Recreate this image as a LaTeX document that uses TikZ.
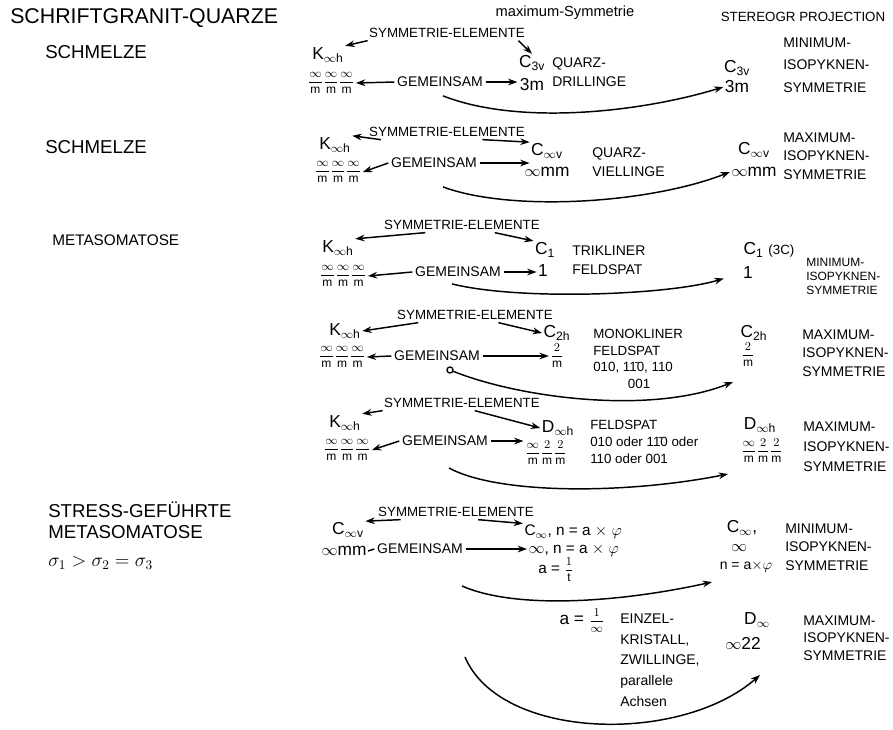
\documentclass[tikz,border=0pt]{standalone}
\usepackage{fontspec}
\setmainfont{Liberation Sans}
\usepackage{amsmath}
\usetikzlibrary{calc}
\usetikzlibrary{positioning}
\usetikzlibrary{arrows.meta}
\tikzstyle{rowlabel} = [font=\fontsize{14}{16}\selectfont, anchor=west, inner sep=0]
\tikzstyle{symlabel} = [font=\fontsize{10}{12}\selectfont, inner sep=1pt]
\tikzstyle{gemlabel} = [font=\fontsize{10.5}{12}\selectfont, inner sep=2pt]
\tikzstyle{grpnode} = [font=\fontsize{13}{15}\selectfont, inner sep=1pt]
\tikzstyle{desc} = [font=\fontsize{10.5}{14}\selectfont, anchor=west, align=left, inner sep=0]
\tikzstyle{flow} = [-{Stealth[length=7pt, width=5pt]}, line width=1.1pt]
\tikzstyle{tailmark} = [draw, circle, inner sep=1.6pt, line width=1pt]
\newcommand{\symfrac}[2]{{\fontsize{9}{10}\selectfont$\dfrac{#1}{\text{#2}}$}}
\newcommand{\infsub}[1]{\textsubscript{$\infty$#1}}

\begin{document}
\begin{tikzpicture}[x=0.75pt, y=-0.75pt]
\useasboundingbox (0,0) rectangle (893,729);
% header
\node[rowlabel, font=\fontsize{16}{18}\selectfont] (title) at (10,18) {SCHRIFTGRANIT-QUARZE};
\node[font=\fontsize{11}{13}\selectfont] (max_head) at (565,13) {maximum-Symmetrie};
\node[font=\fontsize{10}{12}\selectfont] (proj_head) at (803,17) {STEREOGR PROJECTION};

% row a: Schmelze -> Quarz-Drillinge
\node[rowlabel] (melt_a) at (45,52) {SCHMELZE};
\node[symlabel] (sym_a) at (447,33) {SYMMETRIE-ELEMENTE};
\node[grpnode] (k_a) at (328,55) {K\infsub{h}};
\node[grpnode] (kf_a) at ($(k_a)+(3,28)$) {\symfrac{\infty}{m}\symfrac{\infty}{m}\symfrac{\infty}{m}};
\node[gemlabel] (gem_a) at (440,82) {GEMEINSAM};
\node[grpnode] (c_a) at (532,63) {C\textsubscript{3v}};
\node[grpnode] (cf_a) at ($(c_a)+(0,22)$) {3m};
\node[desc] (quarz_a) at (552,72) {QUARZ-\\DRILLINGE};
\node[grpnode] (r_a) at (737,68) {C\textsubscript{3v}};
\node[grpnode] (rf_a) at ($(r_a)+(0,19)$) {3m};
\node[desc, font=\fontsize{10.5}{17}\selectfont] (iso_a) at (783,65) {MINIMUM-\\ISOPYKNEN-\\SYMMETRIE};
\coordinate (tail_a) at ($(gem_a.south)+(3,6)$);
\draw[flow] ([yshift=-1pt]sym_a.south west) -- (k_a.north east);
\draw[flow] ([xshift=-6pt, yshift=-1pt]sym_a.south east) -- (c_a.north);
\draw[flow] (gem_a.west) -- (kf_a.east);
\draw[flow] (gem_a.east) -- (gem_a.east -| c_a.west);
\draw[flow] (tail_a) .. controls +(77,30) and +(-82,25) .. (rf_a.west);

% row b: Schmelze -> Quarz-Viellinge
\node[rowlabel] (melt_b) at (45,147) {SCHMELZE};
\node[symlabel] (sym_b) at (447,132) {SYMMETRIE-ELEMENTE};
\node[grpnode] (k_b) at (335,145) {K\infsub{h}};
\node[grpnode] (kf_b) at ($(k_b)+(3,27)$) {\symfrac{\infty}{m}\symfrac{\infty}{m}\symfrac{\infty}{m}};
\node[gemlabel] (gem_b) at (434,163) {GEMEINSAM};
\node[grpnode] (c_b) at (547,151) {C\infsub{v}};
\node[grpnode] (cf_b) at ($(c_b)+(0,21)$) {$\infty$mm};
\node[desc] (quarz_b) at (592,162) {QUARZ-\\VIELLINGE};
\node[grpnode] (r_b) at (754,150) {C\infsub{v}};
\node[grpnode] (rf_b) at ($(r_b)+(0,22)$) {$\infty$mm};
\node[desc] (iso_b) at (783,156) {MAXIMUM-\\ISOPYKNEN-\\SYMMETRIE};
\coordinate (tail_b) at ($(gem_b.south)+(9,16)$);
\draw[flow] ([xshift=10pt, yshift=-1pt]sym_b.south west) -- (k_b.north east);
\draw[flow] ([xshift=-33pt, yshift=-1pt]sym_b.south east) -- (c_b.north west);
\draw[flow] (gem_b.west) -- (kf_b.east);
\draw[flow] (gem_b.east) -- (gem_b.east -| c_b.west);
\draw[flow] (tail_b) .. controls +(67,25) and +(-82,32) .. (rf_b.west);

% row c: Metasomatose -> trikliner Feldspat
\node[rowlabel, font=\fontsize{11.5}{14}\selectfont] (meta_c) at (52,240) {METASOMATOSE};
\node[symlabel] (sym_c) at (462,225) {SYMMETRIE-ELEMENTE};
\node[grpnode] (k_c) at (338,248) {K\infsub{h}};
\node[grpnode] (kf_c) at ($(k_c)+(5,28)$) {\symfrac{\infty}{m}\symfrac{\infty}{m}\symfrac{\infty}{m}};
\node[gemlabel] (gem_c) at (458,272) {GEMEINSAM};
\node[grpnode] (c_c) at (545,250) {C\textsubscript{1}};
\node[grpnode] (cf_c) at ($(c_c)+(-2,21)$) {1};
\node[desc] (trik_c) at (572,260) {TRIKLINER\\FELDSPAT};
\node[grpnode] (r_c) at (769,250) {C\textsubscript{1} {\fontsize{10}{12}\selectfont(3C)}};
\node[grpnode] (rf_c) at (748,273) {1};
\node[desc, font=\fontsize{9}{10.5}\selectfont] (iso_c) at (806,276) {MINIMUM-\\ISOPYKNEN-\\SYMMETRIE};
\coordinate (tail_c) at ($(gem_c.south)+(-6,4)$);
\draw[flow] ([xshift=32pt, yshift=-1pt]sym_c.south west) -- (k_c.north east);
\draw[flow] ([xshift=-35pt, yshift=-1pt]sym_c.south east) -- (c_c.north west);
\draw[flow] (gem_c.west) -- (kf_c.east);
\draw[flow] (gem_c.east) -- (gem_c.east -| cf_c.west);
\draw[flow, shorten >=14pt] (tail_c) .. controls +(68,17) and +(-72,22) .. (rf_c.west);

% row d: monokliner Feldspat
\node[symlabel] (sym_d) at (475,315) {SYMMETRIE-ELEMENTE};
\node[grpnode] (k_d) at (345,331) {K\infsub{h}};
\node[grpnode] (kf_d) at ($(k_d)+(-3,26)$) {\symfrac{\infty}{m}\symfrac{\infty}{m}\symfrac{\infty}{m}};
\node[gemlabel] (gem_d) at (437,356) {GEMEINSAM};
\node[grpnode] (c_d) at (557,333) {C\textsubscript{2h}};
\node[grpnode] (cf_d) at ($(c_d)+(0,23)$) {\symfrac{2}{m}};
\node[desc, font=\fontsize{10}{12.5}\selectfont] (mono_d) at (593,359) {MONOKLINER\\FELDSPAT\\010, 1\={1}0, 110\\\hspace*{2.6em}001};
\node[grpnode] (r_d) at (754,333) {C\textsubscript{2h}};
\node[grpnode] (rf_d) at ($(r_d)+(-6,22)$) {\symfrac{2}{m}};
\node[desc] (iso_d) at (802,353) {MAXIMUM-\\ISOPYKNEN-\\SYMMETRIE};
\node[tailmark] (tail_d) at (450,370) {};
\coordinate (head_d) at (733,382);
\draw[flow] ([xshift=17pt, yshift=-1pt]sym_d.south west) -- (k_d.east);
\draw[flow] ([xshift=-42pt, yshift=-1pt]sym_d.south east) -- (c_d.west);
\draw[flow] (gem_d.west) -- (kf_d.east);
\draw[flow] (gem_d.east) -- (gem_d.east -| cf_d.west);
\draw[flow] (tail_d) .. controls +(70,28) and +(-83,33) .. (head_d);

% row e: Feldspat D_oo h
\node[symlabel] (sym_e) at (462,403) {SYMMETRIE-ELEMENTE};
\node[grpnode] (k_e) at (345,423) {K\infsub{h}};
\node[grpnode] (kf_e) at ($(k_e)+(2,27)$) {\symfrac{\infty}{m}\symfrac{\infty}{m}\symfrac{\infty}{m}};
\node[gemlabel] (gem_e) at (445,441) {GEMEINSAM};
\node[grpnode] (d_e) at (558,428) {D\infsub{h}};
\node[grpnode] (df_e) at ($(d_e)+(-12,25)$) {\symfrac{\infty}{m}\symfrac{2}{m}\symfrac{2}{m}};
\node[desc, font=\fontsize{10}{12.5}\selectfont] (feld_e) at (590,442) {FELDSPAT\\010 oder 1\={1}0 oder\\110 oder 001};
\node[grpnode] (r_e) at (760,425) {D\infsub{h}};
\node[grpnode] (rf_e) at ($(r_e)+(2,26)$) {\symfrac{\infty}{m}\symfrac{2}{m}\symfrac{2}{m}};
\node[desc, font=\fontsize{10.5}{15}\selectfont] (iso_e) at (803,447) {MAXIMUM-\\ISOPYKNEN-\\SYMMETRIE};
\coordinate (tail_e) at (449,468);
\coordinate (head_e) at (728,474);
\draw[flow] ([yshift=-1pt]sym_e.south west) -- (k_e.north east);
\draw[flow] ([xshift=-50pt, yshift=-1pt]sym_e.south east) -- (d_e.west);
\draw[flow] (gem_e.west) -- (kf_e.east);
\draw[flow] (gem_e.east) -- (gem_e.east -| df_e.west);
\draw[flow] (tail_e) .. controls +(50,27) and +(-100,20) .. (head_e);

% row f: stress-gefuehrte Metasomatose
\node[rowlabel] (stress_f) at (48,510) {STRESS-GEFÜHRTE};
\node[rowlabel] (meta_f) at ($(stress_f.west)+(0,22)$) {METASOMATOSE};
\node[rowlabel] (sigma_f) at ($(meta_f.west)+(0,31)$) {$\sigma_1 > \sigma_2 = \sigma_3$};
\node[symlabel] (sym_f) at (456,512) {SYMMETRIE-ELEMENTE};
\node[grpnode] (c_f) at (348,530) {C\infsub{v}};
\node[grpnode] (cf_f) at ($(c_f)+(-4,21)$) {$\infty$mm};
\node[gemlabel] (gem_f) at (420,549) {GEMEINSAM};
\node[grpnode, anchor=west, font=\fontsize{11.5}{14}\selectfont] (cinf_f) at (523,532) {C\textsubscript{$\infty$}, n = a $\times$ $\varphi$};
\node[grpnode, anchor=west, font=\fontsize{11.5}{14}\selectfont] (inf_f) at (527,550) {$\infty$, n = a $\times$ $\varphi$};
\node[grpnode, font=\fontsize{11.5}{14}\selectfont] (a_f) at (556,570) {a = \symfrac{1}{t}};
\node[grpnode] (r_f) at (742,528) {C\textsubscript{$\infty$},};
\node[grpnode] (rf_f) at ($(r_f)+(-3,20)$) {$\infty$};
\node[grpnode, font=\fontsize{10.5}{12}\selectfont] (rn_f) at ($(r_f)+(4,39)$) {n = a$\times\varphi$};
\node[desc] (iso_f) at (785,547) {MINIMUM-\\ISOPYKNEN-\\SYMMETRIE};
\coordinate (tail_f) at (462,586);
\coordinate (head_f) at (712,582);
\draw[flow] ([xshift=18pt, yshift=-1pt]sym_f.south west) -- (c_f.north east);
\draw[flow] ([xshift=-43pt, yshift=-1pt]sym_f.south east) -- (cinf_f.north west);
\draw[line width=1.1pt] (cf_f.east) -- (gem_f.west);
\draw[flow] (gem_f.east) -- (gem_f.east -| inf_f.west);
\draw[flow] (tail_f) .. controls +(55,24) and +(-90,20) .. (head_f);

% row g: Einzelkristall, Zwillinge
\node[grpnode] (a_g) at (582,621) {a = {\fontsize{9}{10}\selectfont$\dfrac{1}{\infty}$}};
\node[desc, font=\fontsize{10.5}{15.5}\selectfont] (einz_g) at (620,660) {EINZEL-\\KRISTALL,\\ZWILLINGE,\\parallele\\Achsen};
\node[grpnode] (d_g) at (757,620) {D\textsubscript{$\infty$}};
\node[grpnode] (df_g) at ($(d_g)+(-14,23)$) {$\infty$22};
\node[desc, font=\fontsize{10.5}{13}\selectfont] (iso_g) at (803,638) {MAXIMUM-\\ISOPYKNEN-\\SYMMETRIE};
\coordinate (tail_g) at (465,657);
\coordinate (head_g) at (760,675);
\draw[flow] (tail_g) .. controls (500,740) and (680,745) .. (head_g);
\end{tikzpicture}
\end{document}
